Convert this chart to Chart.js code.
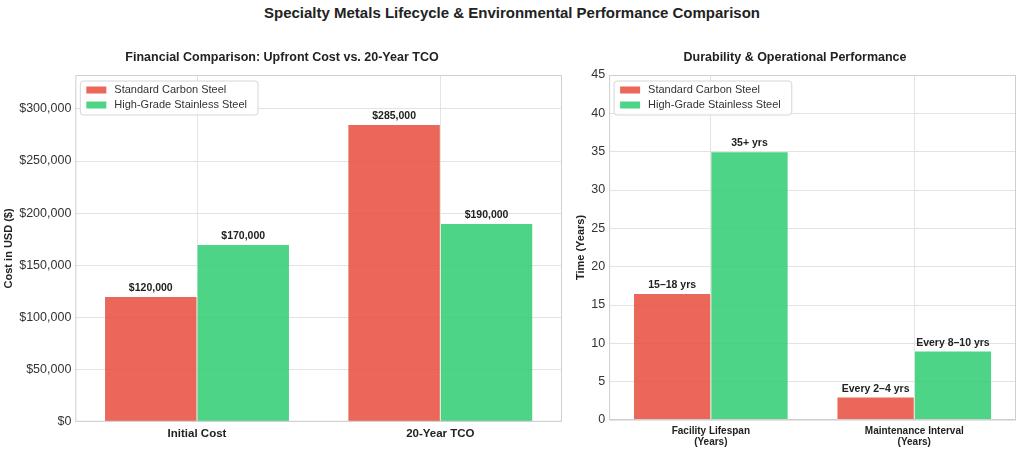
<!DOCTYPE html>
<html>
<head>
<meta charset="utf-8">
<script src="https://cdn.jsdelivr.net/npm/chart.js@4.4.1/dist/chart.umd.min.js"></script>
<style>
  html, body { margin: 0; padding: 0; background: #fff; }
  #wrap { position: relative; width: 1024px; height: 453px; font-family: "Liberation Sans", Arial, sans-serif; }
  #title { position: absolute; top: 4px; left: 0; width: 1024px; text-align: center; font-weight: bold; font-size: 15px; color: #222; }
  .box { position: absolute; }
</style>
</head>
<body>
<div id="wrap">
  <div id="title">Specialty Metals Lifecycle &amp; Environmental Performance Comparison</div>
  <div class="box" style="left:0;top:40px;width:572px;height:413px"><canvas id="costChart"></canvas></div>
  <div class="box" style="left:572px;top:40px;width:452px;height:413px"><canvas id="durChart"></canvas></div>
</div>
<script>
// data
const seriesNames = ['Standard Carbon Steel', 'High-Grade Stainless Steel'];
const costCategories = ['Initial Cost', '20-Year TCO'];
const carbonCost = [120000, 285000];
const stainlessCost = [170000, 190000];
const costTicks = [0, 50000, 100000, 150000, 200000, 250000, 300000];

const durCategories = [['Facility Lifespan', '(Years)'], ['Maintenance Interval', '(Years)']];
const carbonYears = [16.5, 3];
const stainlessYears = [35, 9];
const carbonYearLabels = ['15–18 yrs', 'Every 2–4 yrs'];
const stainlessYearLabels = ['35+ yrs', 'Every 8–10 yrs'];
const yearTicks = [0, 5, 10, 15, 20, 25, 30, 35, 40, 45];

const red = 'rgba(231, 76, 60, 0.85)';
const green = 'rgba(46, 204, 113, 0.85)';
const FONT = '"Liberation Sans", Arial, sans-serif';

// value labels above bars
const barLabels = {
  id: 'barLabels',
  afterDatasetsDraw(chart, args, opts) {
    const ctx = chart.ctx;
    ctx.save();
    ctx.font = 'bold ' + opts.size + 'px ' + FONT;
    ctx.fillStyle = '#222';
    ctx.textAlign = 'center';
    ctx.textBaseline = 'bottom';
    chart.data.datasets.forEach((ds, i) => {
      chart.getDatasetMeta(i).data.forEach((bar, j) => {
        ctx.fillText(ds.valueLabels[j], bar.x, bar.y - 3);
      });
    });
    ctx.restore();
  }
};

// frame + legend inside plot area
const frameLegend = {
  id: 'frameLegend',
  afterDraw(chart) {
    const ctx = chart.ctx;
    const a = chart.chartArea;
    ctx.save();
    ctx.strokeStyle = '#cfcfcf';
    ctx.lineWidth = 1;
    ctx.strokeRect(a.left + 0.5, a.top + 0.5, a.right - a.left - 1, a.bottom - a.top - 1);

    const x = a.left + 5, y = a.top + 6;
    ctx.font = '11px ' + FONT;
    let w = 0;
    chart.data.datasets.forEach(ds => { w = Math.max(w, ctx.measureText(ds.label).width); });
    const bw = w + 45, bh = 34;
    ctx.fillStyle = 'rgba(255,255,255,0.85)';
    ctx.strokeStyle = '#d6d6d6';
    ctx.beginPath();
    ctx.roundRect(x, y, bw, bh, 3);
    ctx.fill();
    ctx.stroke();
    ctx.textBaseline = 'middle';
    chart.data.datasets.forEach((ds, i) => {
      const cy = y + 9 + i * 15;
      ctx.fillStyle = ds.backgroundColor;
      ctx.fillRect(x + 6, cy - 3.5, 20, 7);
      ctx.fillStyle = '#333';
      ctx.fillText(ds.label, x + 34, cy);
    });
    ctx.restore();
  }
};

function makeChart(id, cats, a, b, la, lb, yMax, yTicks, yFmt, title, yTitle, pad, xFont) {
  return new Chart(document.getElementById(id), {
    type: 'bar',
    data: {
      labels: cats,
      datasets: [
        { label: seriesNames[0], data: a, valueLabels: la, backgroundColor: red, borderColor: '#fff', borderWidth: 0.5 },
        { label: seriesNames[1], data: b, valueLabels: lb, backgroundColor: green, borderColor: '#fff', borderWidth: 0.5 }
      ]
    },
    options: {
      responsive: true,
      maintainAspectRatio: false,
      animation: false,
      layout: { padding: pad },
      categoryPercentage: 0.76,
      barPercentage: 1.0,
      plugins: {
        legend: { display: false },
        tooltip: { enabled: false },
        title: { display: true, text: title, color: '#222', font: { family: FONT, size: 12.5, weight: 'bold' }, padding: { top: 10, bottom: 10 } },
        barLabels: { size: 10.5 }
      },
      scales: {
        x: {
          border: { display: false },
          grid: { color: '#e3e3e3', drawTicks: false, offset: false },
          ticks: { padding: 5, color: '#222', font: { family: FONT, size: xFont, weight: 'bold', lineHeight: 1.15 } }
        },
        y: {
          min: 0,
          max: yMax,
          border: { display: false },
          grid: { color: '#e3e3e3', drawTicks: false },
          afterBuildTicks: axis => { axis.ticks = yTicks.map(v => ({ value: v })); },
          ticks: { padding: 4, color: '#333', font: { family: FONT, size: 12.5 }, callback: yFmt },
          title: { display: true, text: yTitle, color: '#222', font: { family: FONT, size: 11, weight: 'bold' }, padding: { top: 0, bottom: 0 } }
        }
      }
    },
    plugins: [barLabels, frameLegend]
  });
}

const usd = v => '$' + v.toLocaleString('en-US');

makeChart('costChart', costCategories, carbonCost, stainlessCost,
  carbonCost.map(usd), stainlessCost.map(usd),
  332500, costTicks, usd,
  'Financial Comparison: Upfront Cost vs. 20-Year TCO', 'Cost in USD ($)',
  { left: 2, right: 10, top: 0, bottom: 8 }, 11.5);

makeChart('durChart', durCategories, carbonYears, stainlessYears, carbonYearLabels, stainlessYearLabels,
  45, yearTicks, v => v,
  'Durability & Operational Performance', 'Time (Years)',
  { left: 2, right: 8, top: 0, bottom: 0 }, 10);
</script>
</body>
</html>
